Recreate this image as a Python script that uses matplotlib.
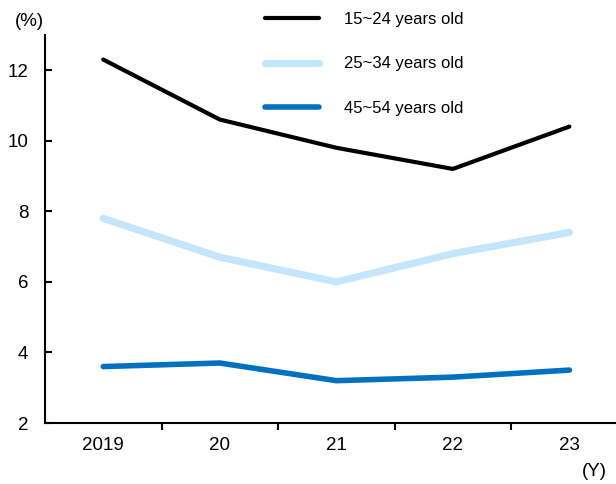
import matplotlib.pyplot as plt

plt.rcParams['font.family'] = ['Liberation Sans', 'DejaVu Sans']

years = ['2019', '20', '21', '22', '23']
age_15_24 = [12.3, 10.6, 9.8, 9.2, 10.4]
age_25_34 = [7.8, 6.7, 6.0, 6.8, 7.4]
age_45_54 = [3.6, 3.7, 3.2, 3.3, 3.5]

fig = plt.figure(figsize=(6.16, 4.84), dpi=100)
ax = fig.add_axes([0.073, 0.126, 0.927, 0.802])

x = range(len(years))
ax.plot(x, age_15_24, color='black', lw=3.0, label='15~24 years old', solid_capstyle='round')
ax.plot(x, age_25_34, color='#C4E6FB', lw=5.2, label='25~34 years old', solid_capstyle='round')
ax.plot(x, age_45_54, color='#0070C0', lw=4.0, label='45~54 years old', solid_capstyle='round')

ax.set_xlim(-0.5, 4.4)
ax.set_ylim(2, 13)
ax.set_yticks([2, 4, 6, 8, 10, 12])
ax.set_xticks(list(x))
ax.set_xticklabels(years)
ax.set_xticks([i + 0.5 for i in range(4)], minor=True)

for s in ['top', 'right']:
    ax.spines[s].set_visible(False)
for s in ['left', 'bottom']:
    ax.spines[s].set_linewidth(1.5)

ax.tick_params(axis='y', direction='in', length=5, width=1.5, labelsize=13.5, pad=12)
ax.tick_params(axis='x', which='major', length=0, labelsize=13.5, pad=10)
ax.tick_params(axis='x', which='minor', direction='out', length=5, width=1.5)

fig.text(0.024, 0.955, '(%)', fontsize=13.5, va='center')
fig.text(0.945, 0.026, '(Y)', fontsize=13.5, va='center')

fig.legend(loc='upper left', bbox_to_anchor=(257 / 616, 1 - 4 / 484), frameon=False,
           borderpad=0, fontsize=12, handlelength=3.2, handletextpad=1.5, labelspacing=1.75)

fig.savefig('out.png', dpi=100)
